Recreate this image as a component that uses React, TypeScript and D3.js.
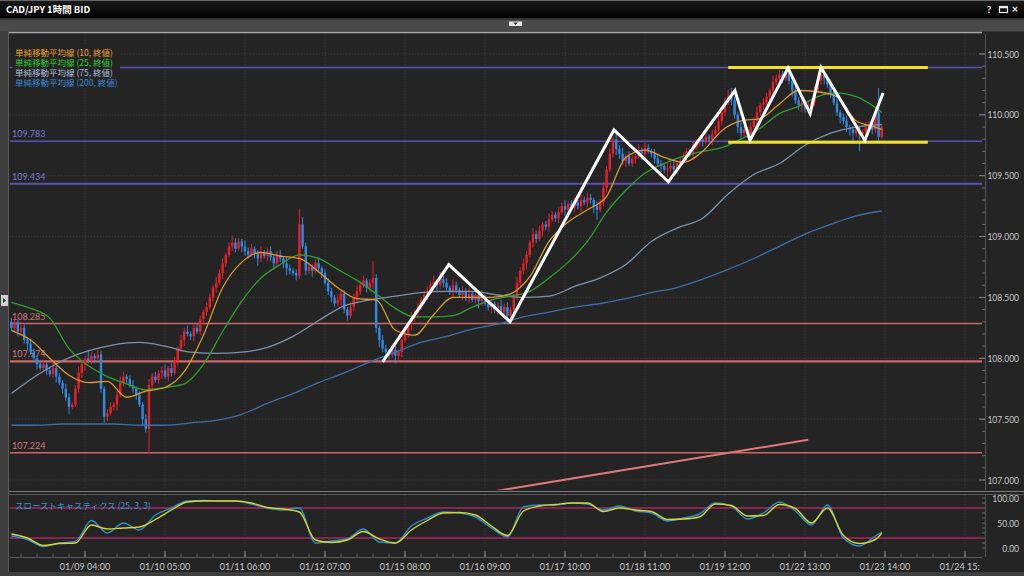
import React from "react";
import * as d3 from "d3";

// ---------- price data (1h candles, CAD/JPY) ----------
const firstOpen = 108.3;
const closes = [
  108.25, 108.3, 108.22, 108.25, 108.15, 108.12, 108.05, 108.0, 107.95, 107.92,
  107.95, 107.9, 107.87, 107.92, 107.85, 107.8, 107.75, 107.68, 107.6, 107.62,
  107.75, 107.88, 107.95, 108.0, 107.98, 108.02, 108.0, 108.03, 107.75, 107.52,
  107.55, 107.6, 107.62, 107.7, 107.8, 107.85, 107.83, 107.78, 107.75, 107.7,
  107.62, 107.5, 107.42, 107.78, 107.85, 107.82, 107.88, 107.9, 107.85, 107.92,
  107.88, 107.98, 108.08, 108.15, 108.22, 108.2, 108.18, 108.25, 108.22, 108.32,
  108.38, 108.42, 108.5, 108.58, 108.62, 108.7, 108.78, 108.85, 108.92, 108.95,
  108.9, 108.96, 108.92, 108.88, 108.85, 108.9, 108.86, 108.82, 108.87, 108.84,
  108.88, 108.83, 108.78, 108.85, 108.82, 108.78, 108.74, 108.72, 108.7, 108.68,
  109.1, 108.92, 108.72, 108.75, 108.72, 108.78, 108.74, 108.7, 108.62, 108.55,
  108.5, 108.45, 108.48, 108.53, 108.4, 108.35, 108.42, 108.5, 108.55, 108.6,
  108.64, 108.58, 108.62, 108.66, 108.25, 108.15, 108.08, 108.05, 108.03, 108.07,
  108.02, 108.05, 108.15, 108.2, 108.28, 108.33, 108.37, 108.42, 108.48, 108.52,
  108.55, 108.6, 108.63, 108.6, 108.65, 108.62, 108.58, 108.55, 108.6, 108.56,
  108.52, 108.55, 108.5, 108.53, 108.48, 108.52, 108.47, 108.5, 108.45, 108.42,
  108.45, 108.4, 108.43, 108.38, 108.42, 108.35, 108.4, 108.5, 108.62, 108.72,
  108.78, 108.85, 108.95, 109.02, 108.98, 109.05, 109.1, 109.08, 109.14, 109.18,
  109.15, 109.2, 109.25, 109.22, 109.27, 109.24, 109.28, 109.25, 109.3, 109.28,
  109.32, 109.3, 109.25, 109.22, 109.28, 109.4, 109.55, 109.68, 109.8, 109.72,
  109.68, 109.62, 109.66, 109.6, 109.64, 109.66, 109.7, 109.68, 109.73, 109.7,
  109.68, 109.64, 109.6, 109.58, 109.55, 109.56, 109.58, 109.55, 109.6, 109.62,
  109.65, 109.7, 109.68, 109.73, 109.77, 109.8, 109.78, 109.82, 109.8, 109.84,
  109.88, 109.95, 110.02, 110.1, 110.15, 110.12, 110.0, 109.9, 109.85, 109.88,
  109.85, 109.9, 109.95, 110.02, 110.08, 110.1, 110.15, 110.2, 110.27, 110.3,
  110.33, 110.3, 110.35, 110.28, 110.2, 110.12, 110.08, 110.1, 110.05, 110.08,
  110.1, 110.2, 110.28, 110.33, 110.3, 110.25, 110.18, 110.1, 110.02, 109.98,
  109.95, 109.9, 109.88, 109.85, 109.88, 109.84, 109.86, 109.9, 109.92, 109.88,
  110.02, 109.82, 109.9,
];
// wick lengths beyond the body, in pips (0.01 yen)
const wickUp = [
  3, 4, 2, 5, 3, 2, 4, 3, 2, 3, 4, 2, 3, 5, 2, 3, 2, 4, 3, 2,
  3, 5, 4, 2, 6, 3, 2, 4, 3, 2, 3, 4, 2, 3, 5, 4, 2, 3, 4, 2,
  3, 2, 4, 5, 3, 4, 2, 3, 5, 2, 4, 3, 2, 4, 3, 5, 2, 3, 4, 3,
  2, 4, 3, 2, 5, 3, 4, 2, 3, 6, 4, 3, 2, 5, 3, 4, 2, 3, 5, 2,
  3, 4, 2, 3, 4, 2, 5, 3, 2, 3, 13, 6, 3, 4, 2, 3, 5, 2, 3, 4,
  3, 2, 5, 4, 3, 2, 4, 3, 5, 3, 4, 2, 3, 14, 3, 2, 4, 3, 2, 5,
  3, 2, 4, 3, 2, 5, 3, 4, 2, 3, 4, 3, 5, 2, 6, 3, 4, 2, 5, 3,
  2, 4, 3, 5, 2, 3, 4, 6, 2, 3, 4, 2, 3, 5, 3, 4, 2, 3, 5, 3,
  4, 3, 2, 5, 3, 4, 2, 3, 5, 3, 2, 4, 3, 5, 2, 3, 4, 2, 5, 3,
  4, 3, 2, 4, 3, 5, 3, 4, 2, 8, 3, 5, 2, 4, 3, 2, 6, 3, 4, 3,
  2, 4, 3, 3, 2, 4, 3, 5, 2, 3, 4, 3, 2, 5, 3, 2, 4, 3, 2, 4,
  3, 5, 2, 4, 6, 7, 3, 2, 4, 3, 2, 4, 3, 5, 2, 4, 3, 2, 5, 3,
  4, 3, 4, 3, 2, 5, 3, 4, 2, 3, 2, 4, 3, 5, 3, 2, 4, 3, 5, 2,
  3, 4, 2, 3, 5, 3, 2, 4, 3, 2, 4, 20, 3,
];
const wickDn = [
  2, 3, 4, 2, 3, 5, 2, 3, 4, 2, 3, 4, 2, 3, 5, 2, 4, 3, 6, 2,
  2, 3, 4, 5, 2, 3, 4, 2, 3, 5, 4, 2, 3, 5, 2, 3, 4, 2, 3, 4,
  2, 5, 3, 20, 4, 2, 3, 5, 2, 4, 3, 2, 4, 3, 5, 2, 3, 4, 2, 3,
  4, 3, 2, 3, 4, 2, 5, 3, 2, 4, 3, 2, 5, 4, 3, 2, 4, 6, 3, 2,
  4, 3, 5, 2, 3, 4, 6, 3, 2, 4, 3, 2, 4, 3, 5, 2, 3, 4, 2, 3,
  4, 3, 2, 5, 3, 4, 2, 3, 5, 3, 2, 4, 3, 5, 4, 6, 3, 5, 4, 3,
  6, 3, 4, 2, 3, 5, 3, 4, 2, 3, 4, 3, 2, 5, 3, 4, 2, 3, 5, 3,
  2, 4, 3, 5, 2, 3, 6, 4, 2, 3, 5, 3, 4, 2, 3, 4, 6, 3, 2, 4,
  3, 5, 2, 4, 3, 2, 5, 3, 4, 2, 3, 4, 2, 5, 3, 2, 4, 3, 5, 2,
  4, 3, 6, 8, 2, 3, 4, 2, 3, 5, 4, 3, 5, 2, 3, 4, 2, 5, 3, 2,
  3, 4, 2, 5, 3, 6, 3, 2, 4, 3, 2, 4, 3, 5, 2, 3, 4, 2, 3, 5,
  3, 2, 4, 3, 2, 4, 3, 5, 4, 3, 4, 3, 2, 5, 3, 4, 2, 3, 4, 3,
  3, 4, 2, 3, 5, 3, 4, 6, 3, 2, 4, 3, 2, 3, 5, 3, 4, 2, 3, 5,
  3, 4, 5, 6, 3, 14, 4, 2, 3, 4, 3, 4, 2,
];

// ---------- moving averages ----------
const maFastIdx = [...d3.range(0, 271, 6), 272];
const ma10 = [
  108.23, 108.15, 108.0, 107.86, 107.8, 107.81, 107.68, 107.73, 107.76, 107.89,
  108.19, 108.58, 108.79, 108.87, 108.84, 108.82, 108.71, 108.58, 108.49, 108.48,
  108.23, 108.19, 108.36, 108.5, 108.5, 108.5, 108.53, 108.67, 108.96, 109.12,
  109.22, 109.33, 109.65, 109.71, 109.65, 109.61, 109.7, 109.87, 109.95, 109.97,
  110.09, 110.2, 110.19, 110.15, 109.95, 109.9, 109.88,
];
const ma25 = [
  108.46, 108.41, 108.33, 108.08, 107.94, 107.85, 107.79, 107.74, 107.76, 107.79,
  107.95, 108.22, 108.47, 108.66, 108.77, 108.85, 108.82, 108.73, 108.64, 108.53,
  108.41, 108.34, 108.34, 108.35, 108.42, 108.48, 108.51, 108.55, 108.66, 108.79,
  108.96, 109.2, 109.38, 109.52, 109.6, 109.66, 109.7, 109.73, 109.8, 109.89,
  110.01, 110.07, 110.15, 110.18, 110.15, 110.06, 110.02,
];
const maSlowIdx = d3.range(0, 273, 8);
const ma75 = [
  107.71, 107.86, 107.98, 108.06, 108.11, 108.13, 108.1, 108.05, 108.04, 108.05,
  108.09, 108.18, 108.31, 108.43, 108.48, 108.51, 108.54, 108.55, 108.55, 108.52,
  108.5, 108.51, 108.59, 108.66, 108.77, 108.96, 109.07, 109.15, 109.35, 109.51,
  109.6, 109.75, 109.85, 109.9, 109.92,
];
const ma200 = [
  107.45, 107.45, 107.46, 107.46, 107.46, 107.45, 107.45, 107.47, 107.49, 107.54,
  107.63, 107.71, 107.8, 107.88, 107.97, 108.05, 108.13, 108.18, 108.24, 108.28,
  108.34, 108.38, 108.42, 108.45, 108.49, 108.54, 108.58, 108.65, 108.73, 108.82,
  108.92, 109.02, 109.1, 109.17, 109.21,
];

// ---------- slow stochastics (25,3,3) ----------
const stochIdx = [...d3.range(0, 271, 5), 272];
const stochK = [
  24, 17, 3, 10, 13, 55, 30, 50, 36, 66, 80, 94, 95, 94, 94, 88, 80, 76, 80, 10,
  14, 18, 38, 12, 10, 44, 60, 72, 70, 62, 40, 22, 82, 86, 86, 90, 88, 76, 84, 74,
  70, 54, 60, 68, 90, 84, 58, 70, 92, 74, 46, 86, 20, 4, 24, 32,
];
const stochD = [
  28, 20, 5, 9, 10, 46, 38, 40, 42, 57, 76, 92, 94, 94, 94, 90, 81, 78, 72, 16,
  11, 16, 33, 18, 10, 36, 55, 70, 71, 66, 44, 25, 74, 84, 87, 90, 90, 73, 80, 76,
  73, 57, 58, 62, 88, 85, 64, 65, 87, 79, 50, 80, 25, 9, 17, 30,
];

// ---------- horizontal levels ----------
const levelPrices = [110.39, 109.783, 109.434, 108.285, 107.974, 107.224];
const levelLabels = ["", "109.783", "109.434", "108.285", "107.974", "107.224"];
const levelIsResistance = [true, true, true, false, false, false];
const levelWidths = [1.5, 1.5, 2.2, 1.5, 2.2, 1.5];

// ---------- drawn annotations ----------
const zigzagIdx = [116, 136.7, 155.8, 188.3, 205.3, 226.1, 230.8, 242.7, 249.6, 253, 266.7, 272.4];
const zigzagPrice = [107.97, 108.77, 108.3, 109.876, 109.45, 110.2, 109.79, 110.385, 110.01, 110.39, 109.79, 110.18];
const channelIdx = [224, 286.4];
const channelPrices = [110.39, 109.775];
const trendIdx = [140, 249];
const trendPrice = [106.86, 107.33];

// ---------- axes ----------
const timeLabels = [
  "01/09 04:00", "01/10 05:00", "01/11 06:00", "01/12 07:00", "01/15 08:00", "01/16 09:00",
  "01/17 10:00", "01/18 11:00", "01/19 12:00", "01/22 13:00", "01/23 14:00", "01/24 15:00",
];
const timeLabelFirstIdx = 23;
const timeLabelStep = 25;
const priceTickValues = [107, 107.5, 108, 108.5, 109, 109.5, 110, 110.5];
const stochTickValues = [0, 50, 100];
const legendNames = ["単純移動平均線 (10, 終値)", "単純移動平均線 (25, 終値)", "単純移動平均線 (75, 終値)", "単純移動平均線 (200, 終値)"];
const stochName = "スローストキャスティクス (25, 3, 3)";
const title = "CAD/JPY 1時間 BID";

const FONT = "Lato, 'Noto Sans CJK JP', sans-serif";
const JP = "'Noto Sans CJK JP', Lato, sans-serif";

export default function App() {
  const W = 1024, H = 576;
  const PL = 10, PR = 982, PT = 34, PB = 490, ST = 495, SB = 557;
  const BG = "#242424";

  const x = d3.scaleLinear().domain([23, 273]).range([85, 885]);
  const y = d3.scaleLinear().domain([107, 110.5]).range([480, 54]);
  const ys = d3.scaleLinear().domain([0, 100]).range([548, 498]);

  const candles = closes.map((c, i) => {
    const o = i === 0 ? firstOpen : closes[i - 1];
    return { i, o, c, hi: Math.max(o, c) + wickUp[i] / 100, lo: Math.min(o, c) - wickDn[i] / 100, up: c >= o };
  });

  type P = [number, number];
  const pair = (idx: number[], v: number[]): P[] => idx.map((k, j) => [k, v[j]] as P);
  const line = d3.line<P>().x((d) => x(d[0])).y((d) => y(d[1])).curve(d3.curveMonotoneX);
  const sline = d3.line<P>().x((d) => x(d[0])).y((d) => ys(d[1])).curve(d3.curveMonotoneX);
  const straight = d3.line<P>().x((d) => x(d[0])).y((d) => y(d[1]));

  const maSeries = [
    { d: pair(maSlowIdx, ma200), color: "#3a6fa8" },
    { d: pair(maSlowIdx, ma75), color: "#7d93ab" },
    { d: pair(maFastIdx, ma25), color: "#2ea02e" },
    { d: pair(maFastIdx, ma10), color: "#d99a30" },
  ];
  const legendColors = ["#e8a030", "#2ecc2e", "#a8bedc", "#3c88d8"];

  const fmt = d3.format(".3f");
  const fmt2 = d3.format(".2f");
  const priceMinor = d3.range(1069, 1106, 1).map((v) => v / 10).filter((v) => y(v) > PT && y(v) < PB);
  const stochMinor = d3.range(0, 101, 10);
  const timeMinor = d3.range(-2, 300, 5).filter((k) => x(k) > PL && x(k) < PR);
  const timeMajor = timeLabels.map((t, k) => ({ t, i: timeLabelFirstIdx + k * timeLabelStep }));

  return (
    <svg width={W} height={H} style={{ position: "absolute", left: 0, top: 0, background: BG }}>
      <defs>
        <clipPath id="mainClip"><rect x={PL} y={PT} width={PR - PL} height={PB - PT} /></clipPath>
        <clipPath id="stochClip"><rect x={PL} y={ST} width={PR - PL} height={SB - ST} /></clipPath>
        <clipPath id="timeClip"><rect x={PL} y={SB} width={PR - PL - 2} height={18} /></clipPath>
        <linearGradient id="tb" x1="0" x2="0" y1="0" y2="1">
          <stop offset="0" stopColor="#1c1c1c" />
          <stop offset="1" stopColor="#000" />
        </linearGradient>
      </defs>
      <rect x={0} y={0} width={W} height={H} fill={BG} />

      {/* grid */}
      <g stroke="#3a3a3a" strokeDasharray="1,2" strokeWidth={1}>
        {timeMajor.filter((t) => x(t.i) < PR).map((t) => (
          <g key={t.t}>
            <line x1={x(t.i)} x2={x(t.i)} y1={PT} y2={PB} />
            <line x1={x(t.i)} x2={x(t.i)} y1={ST} y2={SB} />
          </g>
        ))}
        {priceTickValues.map((p) => (
          <line key={p} x1={PL} x2={PR} y1={y(p)} y2={y(p)} />
        ))}
      </g>

      {/* horizontal levels */}
      <g clipPath="url(#mainClip)">
        {levelPrices.map((p, k) => (
          <g key={p}>
            <line x1={PL} x2={PR} y1={y(p)} y2={y(p)} stroke={levelIsResistance[k] ? "#5a52b8" : "#c86868"} strokeWidth={levelWidths[k]} />
            {levelLabels[k] && (
              <text x={12} y={y(p) - 4} fontSize={9} fontFamily={FONT} fill={levelIsResistance[k] ? "#8078d8" : "#d87878"}>
                {levelLabels[k]}
              </text>
            )}
          </g>
        ))}
        <path d={straight(pair(trendIdx, trendPrice)) || ""} stroke="#e07a7a" strokeWidth={2} fill="none" />
      </g>

      {/* candles */}
      <g clipPath="url(#mainClip)">
        {candles.map((k) => {
          const cx = x(k.i);
          const col = k.up ? "#e8202a" : "#2f8ae6";
          const top = y(Math.max(k.o, k.c));
          const bh = Math.max(1, y(Math.min(k.o, k.c)) - top);
          return (
            <g key={k.i}>
              <line x1={cx} x2={cx} y1={y(k.hi)} y2={y(k.lo)} stroke={col} strokeWidth={1} />
              <rect x={cx - 1.2} y={top} width={2.4} height={bh} fill={col} />
            </g>
          );
        })}
        {maSeries.map((m, k) => (
          <path key={k} d={line(m.d) || ""} stroke={m.color} strokeWidth={1.3} fill="none" />
        ))}
      </g>

      {/* annotations */}
      <g clipPath="url(#mainClip)">
        {channelPrices.map((p) => (
          <line key={p} x1={x(channelIdx[0])} x2={x(channelIdx[1])} y1={y(p)} y2={y(p)} stroke="#f2e21c" strokeWidth={3} />
        ))}
        <path d={straight(pair(zigzagIdx, zigzagPrice)) || ""} stroke="#ffffff" strokeWidth={3} fill="none" strokeLinejoin="miter" />
      </g>

      {/* legend */}
      <rect x={12} y={45} width={108} height={43} fill={BG} />
      {legendNames.map((t, k) => (
        <text key={t} x={15} y={55.5 + k * 10} fontSize={8.5} fontFamily={JP} fill={legendColors[k]}>{t}</text>
      ))}

      {/* panel separators */}
      <line x1={8} x2={W} y1={491.5} y2={491.5} stroke="#7a7a7a" strokeWidth={1} />
      <line x1={8} x2={W} y1={494.5} y2={494.5} stroke="#555" strokeWidth={1} />

      {/* stochastics */}
      <g clipPath="url(#stochClip)">
        {[80, 20].map((v) => (
          <line key={v} x1={PL} x2={PR} y1={ys(v)} y2={ys(v)} stroke="#a8245e" strokeWidth={1.5} />
        ))}
        <path d={sline(pair(stochIdx, stochK)) || ""} stroke="#2a90d0" strokeWidth={1.4} fill="none" />
        <path d={sline(pair(stochIdx, stochD)) || ""} stroke="#d6d62a" strokeWidth={1.4} fill="none" />
      </g>
      <text x={15} y={509} fontSize={8.5} fontFamily={JP} fill="#2a9ad0">{stochName}</text>

      {/* time axis */}
      <line x1={PL} x2={PR} y1={SB + 0.5} y2={SB + 0.5} stroke="#5a5a5a" />
      {timeMinor.map((k) => (
        <line key={k} x1={x(k)} x2={x(k)} y1={SB - 3} y2={SB} stroke="#666" />
      ))}
      {timeMajor.filter((t) => x(t.i) < PR).map((t) => (
        <line key={t.t} x1={x(t.i)} x2={x(t.i)} y1={SB - 6} y2={SB} stroke="#888" />
      ))}
      <g clipPath="url(#timeClip)">
        {timeMajor.map((t) => (
          <text key={t.t} x={x(t.i)} y={569.5} textAnchor="middle" fontSize={9} fontFamily={FONT} fill="#c8c8c8">{t.t}</text>
        ))}
      </g>

      {/* right axis */}
      <line x1={985.5} x2={985.5} y1={PT} y2={PB} stroke="#555" />
      <line x1={985.5} x2={985.5} y1={ST} y2={SB} stroke="#555" />
      {priceMinor.map((v) => (
        <line key={v} x1={982} x2={985} y1={y(v)} y2={y(v)} stroke="#666" />
      ))}
      {priceTickValues.map((p) => (
        <g key={p}>
          <line x1={979} x2={985} y1={y(p)} y2={y(p)} stroke="#888" />
          <text x={1019} y={y(p) + 3.5} textAnchor="end" fontSize={8.5} fontFamily={FONT} fill="#c8c8c8">{fmt(p)}</text>
        </g>
      ))}
      {stochMinor.map((v) => (
        <line key={v} x1={982} x2={985} y1={ys(v)} y2={ys(v)} stroke="#666" />
      ))}
      {stochTickValues.map((v) => (
        <text key={v} x={1019} y={ys(v) + 3.5} textAnchor="end" fontSize={8.5} fontFamily={FONT} fill="#c8c8c8">{fmt2(v)}</text>
      ))}

      {/* frame */}
      <rect x={0} y={0} width={W} height={18} fill="url(#tb)" />
      <line x1={0} x2={W} y1={0.5} y2={0.5} stroke="#666" />
      <text x={6} y={12.5} fontSize={9.5} fontWeight="bold" fontFamily={JP} fill="#ffffff">{title}</text>
      <text x={989} y={13} fontSize={10} fontWeight="bold" fontFamily={FONT} fill="#eee" textAnchor="middle">?</text>
      <rect x={999.5} y={6.5} width={8} height={6} fill="none" stroke="#eee" strokeWidth={1.2} />
      <line x1={999.5} x2={1007.5} y1={7.5} y2={7.5} stroke="#eee" strokeWidth={1.5} />
      <text x={1015} y={13} fontSize={11} fontWeight="bold" fontFamily={FONT} fill="#eee" textAnchor="middle">×</text>
      <rect x={0} y={18} width={W} height={1.5} fill="#2a2a2a" />
      <rect x={0} y={19.5} width={W} height={12} fill="#4a4a4a" />
      <rect x={509} y={21.5} width={13} height={4.5} fill="#e6e6e6" />
      <path d="M513,22.5 L518,22.5 L515.5,25 Z" fill="#333" />
      <line x1={8} x2={PR} y1={32.5} y2={32.5} stroke="#a8a8a8" strokeWidth={1.5} />
      <rect x={0} y={31} width={8} height={H - 31} fill="#3e3e3e" />
      <line x1={8.5} x2={8.5} y1={31} y2={H} stroke="#5c5c5c" />
      <rect x={1} y={295} width={7} height={11} fill="#d0d0d0" />
      <path d="M3,298 L6,300.5 L3,303 Z" fill="#333" />
      <rect x={0} y={572} width={W} height={4} fill="#3e3e3e" />
    </svg>
  );
}
